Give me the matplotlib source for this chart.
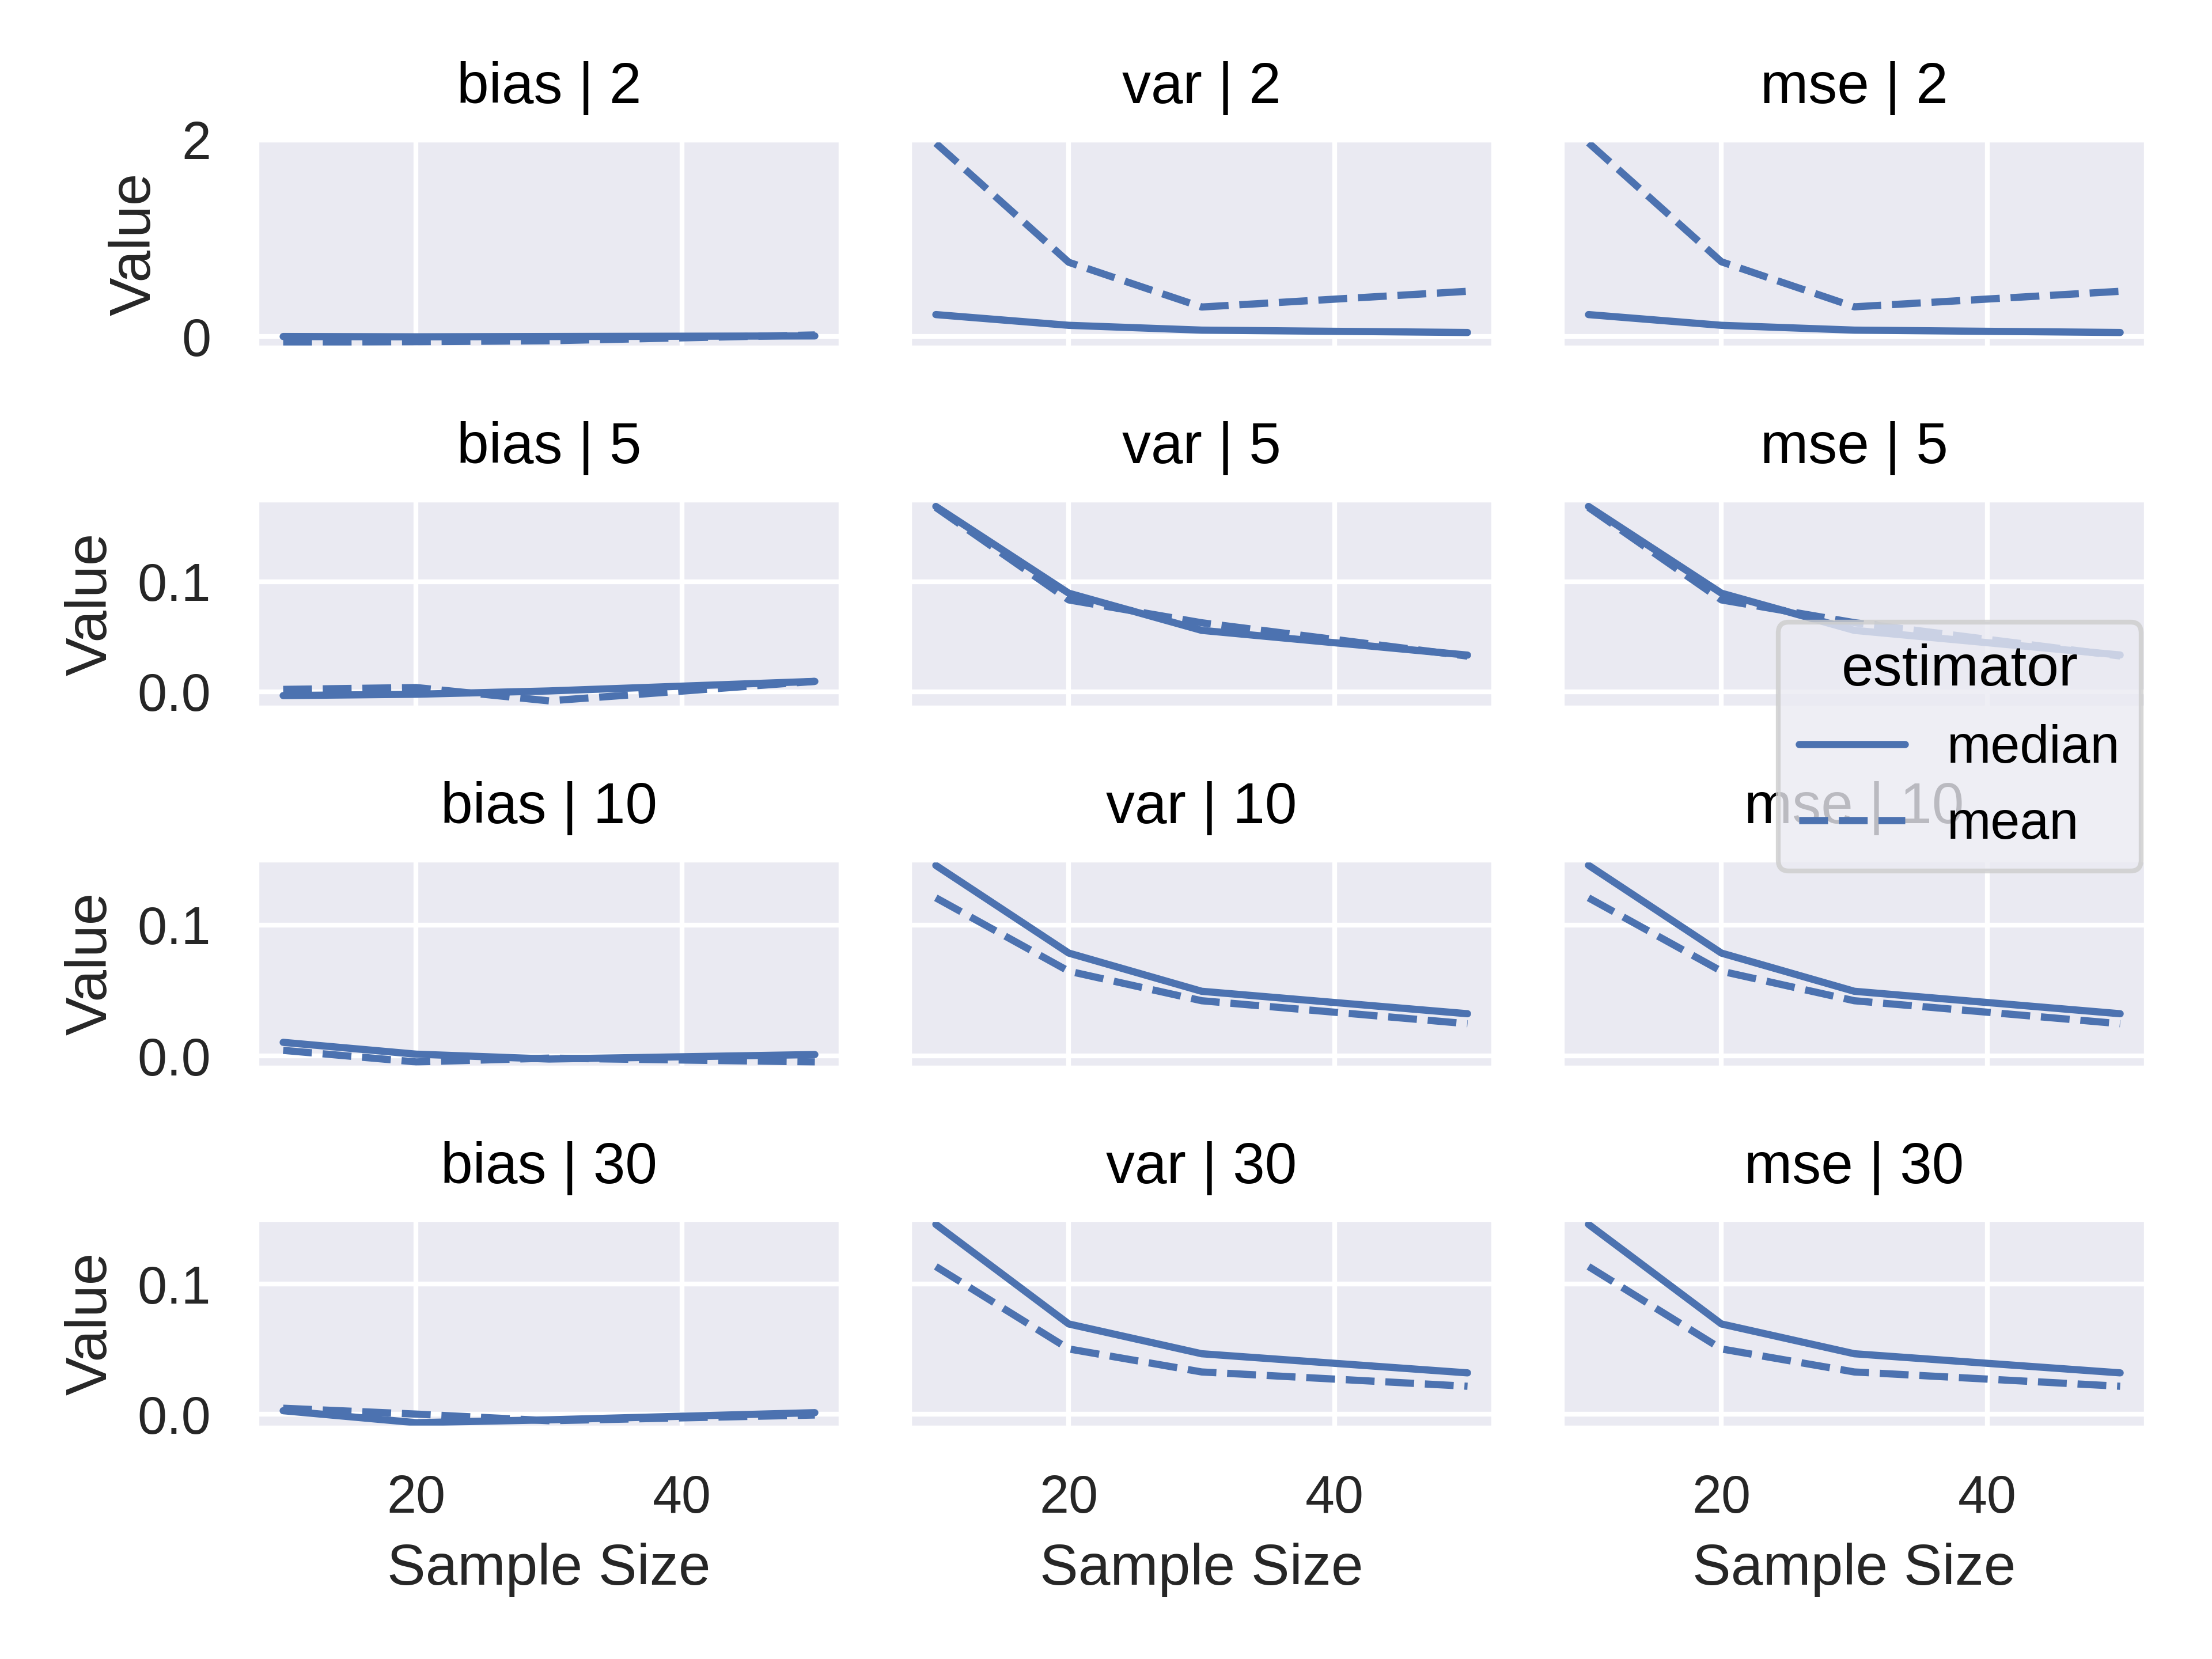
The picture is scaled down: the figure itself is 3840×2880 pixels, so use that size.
import matplotlib
matplotlib.use("Agg")
import matplotlib.pyplot as plt
from matplotlib.lines import Line2D
import seaborn as sns

sns.set_theme(style="darkgrid", context="notebook")
plt.rcParams["font.family"] = ["Liberation Sans", "DejaVu Sans"]

# ---- data ----
sample_sizes = [10, 20, 30, 50]
dfs = [2, 5, 10, 30]
metrics = ["bias", "var", "mse"]
estimators = ["median", "mean"]

# one row per df (2, 5, 10, 30), values at sample sizes 10, 20, 30, 50
bias_median = [
    [0.000, -0.003, 0.000, 0.006],
    [-0.0035, -0.0023, 0.0007, 0.0094],
    [0.0105, 0.0015, -0.0022, 0.0012],
    [0.0027, -0.0065, -0.0043, 0.0012],
]
bias_mean = [
    [-0.059, -0.053, -0.043, 0.016],
    [0.0021, 0.0038, -0.0083, 0.0094],
    [0.0044, -0.0044, -0.0015, -0.0044],
    [0.0046, 0.0001, -0.0050, -0.0006],
]
var_median = [
    [0.223, 0.114, 0.065, 0.041],
    [0.1685, 0.0896, 0.0558, 0.0333],
    [0.1453, 0.0785, 0.0494, 0.0323],
    [0.1460, 0.0694, 0.0465, 0.0318],
]
var_mean = [
    [1.966, 0.755, 0.300, 0.460],
    [0.1676, 0.0835, 0.0627, 0.0324],
    [0.1206, 0.0647, 0.0422, 0.0247],
    [0.1136, 0.0502, 0.0325, 0.0215],
]
mse_median = [
    [0.223, 0.114, 0.065, 0.041],
    [0.1685, 0.0896, 0.0558, 0.0334],
    [0.1454, 0.0785, 0.0494, 0.0323],
    [0.1460, 0.0694, 0.0465, 0.0318],
]
mse_mean = [
    [1.970, 0.760, 0.302, 0.460],
    [0.1676, 0.0835, 0.0628, 0.0325],
    [0.1206, 0.0647, 0.0422, 0.0247],
    [0.1136, 0.0502, 0.0325, 0.0215],
]

row_ylims = [(-0.123, 2.005), (-0.0153, 0.175), (-0.0094, 0.150), (-0.0109, 0.150)]
row_yticks = [[0, 2], [0.0, 0.1], [0.0, 0.1], [0.0, 0.1]]
x_ticks = [20, 40]

series = {
    "bias": {"median": bias_median, "mean": bias_mean},
    "var": {"median": var_median, "mean": var_mean},
    "mse": {"median": mse_median, "mean": mse_mean},
}

color = sns.color_palette("deep")[0]
styles = {"median": "", "mean": (4, 1.5)}

fig, axes = plt.subplots(4, 3, figsize=(6.4, 4.8), sharex=True, sharey="row")
fig.subplots_adjust(left=0.1160, right=0.9705, top=0.916, bottom=0.139,
                    wspace=0.116, hspace=0.72)

for i, d in enumerate(dfs):
    for j, m in enumerate(metrics):
        ax = axes[i, j]
        for est in estimators:
            kw = {}
            if styles[est]:
                kw["dashes"] = styles[est]
            ax.plot(sample_sizes, series[m][est][i], color=color, lw=1.5, **kw)
        ax.set_title(f"{m} | {d}", color="black", fontsize=12, pad=7.5)
        ax.set_ylim(*row_ylims[i])
        ax.set_yticks(row_yticks[i])
        ax.set_xticks(x_ticks)
        if j == 0:
            ax.set_ylabel("Value")
        if i == len(dfs) - 1:
            ax.set_xlabel("Sample Size")

handles = []
for est in estimators:
    kw = {}
    if styles[est]:
        kw["dashes"] = styles[est]
    handles.append(Line2D([], [], color=color, lw=1.5, **kw))

leg = fig.legend(handles, estimators, title="estimator", loc="center right",
                 bbox_to_anchor=(0.968, 0.55), borderaxespad=0, frameon=True,
                 fontsize=11, title_fontsize=12, labelcolor="black")
leg.get_title().set_color("black")

fig.savefig("out.png", dpi=600)
